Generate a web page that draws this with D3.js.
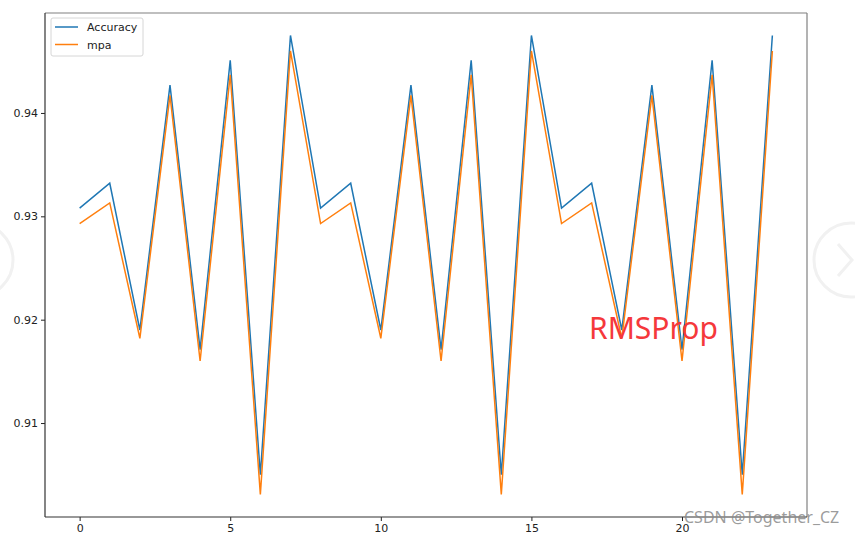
<!DOCTYPE html>
<html>
<head>
<meta charset="utf-8">
<script src="https://cdn.jsdelivr.net/npm/d3@7"></script>
<style>
  body { margin: 0; background: #fff; }
  svg { display: block; }
</style>
</head>
<body>
<div id="Canvas"></div>
<script>
// 數據
let epochs = d3.range(0, 24)
let accuracy = [0.9308, 0.9332, 0.9190, 0.9427, 0.9171, 0.9451, 0.9050, 0.9475,
                0.9308, 0.9332, 0.9190, 0.9427, 0.9171, 0.9451, 0.9050, 0.9475,
                0.9308, 0.9332, 0.9190, 0.9427, 0.9171, 0.9451, 0.9050, 0.9475]
let mpa = [0.9293, 0.9313, 0.9182, 0.9417, 0.9160, 0.9437, 0.9031, 0.9460,
           0.9293, 0.9313, 0.9182, 0.9417, 0.9160, 0.9437, 0.9031, 0.9460,
           0.9293, 0.9313, 0.9182, 0.9417, 0.9160, 0.9437, 0.9031, 0.9460]
let xTicks = [0, 5, 10, 15, 20]
let yTicks = [0.91, 0.92, 0.93, 0.94]
let seriesNames = ["Accuracy", "mpa"]
let seriesColors = ["#1f77b4", "#ff7f0e"]

let W = 855, H = 536
let plotLeft = 45, plotRight = 807, plotTop = 13, plotBottom = 517

let svg = d3.select("#Canvas")
    .append("svg")
    .attr("width", W)
    .attr("height", H)

// 背景裝飾圓圈 (左右翻頁按鈕)
svg.append("circle").attr("cx", -24).attr("cy", 260).attr("r", 37)
    .style("fill", "none").style("stroke", "#f1f1f1").style("stroke-width", 3)
svg.append("circle").attr("cx", 851).attr("cy", 260).attr("r", 37)
    .style("fill", "none").style("stroke", "#f1f1f1").style("stroke-width", 3)
svg.append("path").attr("d", "M838,244 L852,260 L838,276")
    .style("fill", "none").style("stroke", "#f1f1f1").style("stroke-width", 3)

//線性轉換
let xScale = d3.scaleLinear()
    .domain([-1.15, 24.15])
    .range([plotLeft, plotRight])
let yScale = d3.scaleLinear()
    .domain([0.91 - (plotBottom - 423) / 10340, 0.94 + (113 - plotTop) / 10340])
    .range([plotBottom, plotTop])

// 軸
let xAxis = svg.append("g")
    .attr("transform", "translate(0," + plotBottom + ")")
    .call(d3.axisBottom(xScale).tickValues(xTicks).tickSize(4).tickPadding(3).tickFormat(d3.format("d")))
let yAxis = svg.append("g")
    .attr("transform", "translate(" + plotLeft + ",0)")
    .call(d3.axisLeft(yScale).tickValues(yTicks).tickSize(4).tickPadding(3).tickFormat(d3.format(".2f")))
;[xAxis, yAxis].forEach(g => {
    g.select(".domain").remove()
    g.selectAll("line").style("stroke", "#222").style("stroke-width", 1)
    g.selectAll("text").style("font-family", "DejaVu Sans").style("font-size", "11px").style("fill", "#222")
})

// 線
let line = d3.line()
    .x((d, i) => xScale(epochs[i]))
    .y(d => yScale(d))
;[accuracy, mpa].forEach((s, k) => {
    svg.append("path")
        .datum(s)
        .attr("d", line)
        .style("fill", "none")
        .style("stroke", seriesColors[k])
        .style("stroke-width", 1.5)
        .style("stroke-linejoin", "miter")
})

// 框
svg.append("line").attr("x1", plotLeft).attr("x2", plotRight).attr("y1", plotTop).attr("y2", plotTop)
    .style("stroke", "#808080").style("stroke-width", 1.2)
svg.append("line").attr("x1", plotRight).attr("x2", plotRight).attr("y1", plotTop).attr("y2", plotBottom)
    .style("stroke", "#808080").style("stroke-width", 1.2)
svg.append("line").attr("x1", plotLeft).attr("x2", plotLeft).attr("y1", plotTop).attr("y2", plotBottom)
    .style("stroke", "#333").style("stroke-width", 1.2)
svg.append("line").attr("x1", plotLeft).attr("x2", plotRight).attr("y1", plotBottom).attr("y2", plotBottom)
    .style("stroke", "#333").style("stroke-width", 1.2)

// 圖例
let legend = svg.append("g")
legend.append("rect")
    .attr("x", 51).attr("y", 18).attr("width", 92).attr("height", 38)
    .attr("rx", 2)
    .style("fill", "white").style("fill-opacity", 0.8)
    .style("stroke", "#d6d6d6").style("stroke-width", 1)
seriesNames.forEach((name, k) => {
    let y = 27 + k * 17.5
    legend.append("line")
        .attr("x1", 55).attr("x2", 78).attr("y1", y).attr("y2", y)
        .style("stroke", seriesColors[k]).style("stroke-width", 1.5)
    legend.append("text")
        .attr("x", 87).attr("y", y + 4)
        .text(name)
        .style("font-family", "DejaVu Sans").style("font-size", "11px").style("fill", "#222")
})

// 標註文字
svg.append("text")
    .attr("x", 589).attr("y", 339)
    .text("RMSProp")
    .style("font-family", "Noto Sans").style("font-size", "30px").style("fill", "#f5383b")

// 水印
svg.append("text")
    .attr("x", 684).attr("y", 523)
    .text("CSDN @Together_CZ")
    .style("font-family", "Noto Sans").style("font-size", "16px").style("fill", "#8a8a8a").style("fill-opacity", 0.85)
</script>
</body>
</html>
